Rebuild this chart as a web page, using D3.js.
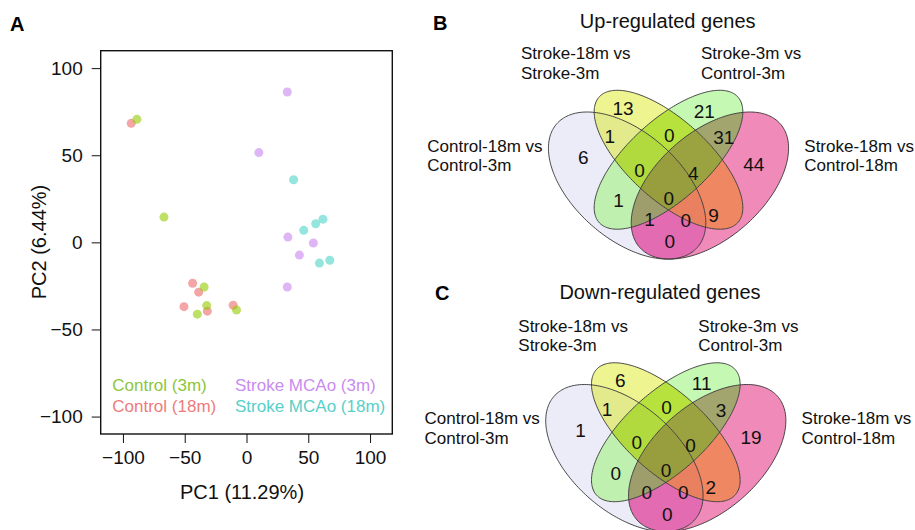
<!DOCTYPE html>
<html>
<head>
<meta charset="utf-8">
<script src="https://cdn.jsdelivr.net/npm/d3@7"></script>
<style>
  body { margin: 0; background: #fff; }
  svg { font-family: "Liberation Sans", Arial, sans-serif; }
</style>
</head>
<body>
<svg id="fig" width="915" height="530"></svg>
<script>
// ---- Panel A data: PCA scores
var groups = ["Control (3m)", "Control (18m)", "Stroke MCAo (3m)", "Stroke MCAo (18m)"];
var pc1Control3m  = [-88.7, -66.8, -34.3, -32.2, -39.8, -8.1];
var pc2Control3m  = [70.6, 14.5, -25.6, -36.3, -41.2, -38.8];
var pc1Control18m = [-93.3, -43.6, -38.7, -50.6, -31.7, -10.8];
var pc2Control18m = [68.3, -23.5, -28.6, -36.9, -39.5, -36.1];
var pc1Stroke3m   = [33.0, 10.0, 33.5, 54.1, 42.8, 33.0];
var pc2Stroke3m   = [86.3, 51.5, 3.0, -0.4, -7.3, -25.6];
var pc1Stroke18m  = [38.1, 61.9, 56.0, 46.3, 59.0, 67.4];
var pc2Stroke18m  = [35.9, 13.3, 10.7, 6.9, -11.9, -10.3];
var axisTicks = [-100, -50, 0, 50, 100];

// ---- Panels B/C data: Venn counts
var setNames = ["Control-18m vs Control-3m", "Stroke-18m vs Stroke-3m",
                "Stroke-3m vs Control-3m", "Stroke-18m vs Control-18m"];
// region keys: L = Control-18m/3m, Y = Stroke-18m/3m, G = Stroke-3m/Control-3m, P = Stroke-18m/Control-18m
var regionKeys = ["L", "Y", "G", "P", "LY", "YG", "GP", "LG", "YP", "LP", "LYG", "YGP", "LGP", "LYP", "LYGP"];
var upCounts   = [6, 13, 21, 44, 1, 0, 31, 1, 9, 0, 0, 4, 1, 0, 0];
var downCounts = [1, 6, 11, 19, 1, 0, 3, 0, 2, 0, 0, 0, 0, 0, 0];

var svg = d3.select("#fig");
svg.append("rect").attr("width", 915).attr("height", 530).attr("fill", "#fff");

// ================= Panel A =================
var colors = {
    "Control (3m)": "#93cb00",
    "Control (18m)": "#ed6969",
    "Stroke MCAo (3m)": "#c885ee",
    "Stroke MCAo (18m)": "#4fd3ca"
};
var textColors = {
    "Control (3m)": "#8cc63c",
    "Control (18m)": "#ee7b7b",
    "Stroke MCAo (3m)": "#c98cf0",
    "Stroke MCAo (18m)": "#58d0c8"
};

var x = d3.scaleLinear().domain([-118, 118]).range([100.7, 392.3]);
var y = d3.scaleLinear().domain([-110, 110]).range([434, 50.7]);

var chart = svg.append("g");

var pts = [];
function addGroup(g, xs, ys) {
    xs.forEach(function(v, i) { pts.push({group: g, pc1: v, pc2: ys[i]}); });
}
addGroup(groups[1], pc1Control18m, pc2Control18m);
addGroup(groups[0], pc1Control3m, pc2Control3m);
addGroup(groups[2], pc1Stroke3m, pc2Stroke3m);
addGroup(groups[3], pc1Stroke18m, pc2Stroke18m);

chart.selectAll("circle.pt").data(pts).enter().append("circle")
    .attr("class", "pt")
    .attr("cx", function(d) { return x(d.pc1); })
    .attr("cy", function(d) { return y(d.pc2); })
    .attr("r", 4.5)
    .attr("fill", function(d) { return colors[d.group]; })
    .attr("fill-opacity", 0.6);

// box
chart.append("rect")
    .attr("x", x.range()[0]).attr("y", y.range()[1])
    .attr("width", x.range()[1] - x.range()[0])
    .attr("height", y.range()[0] - y.range()[1])
    .attr("fill", "none").attr("stroke", "#111").attr("stroke-width", 1.4);

var xAxis = d3.axisBottom(x).tickValues(axisTicks).tickSize(9).tickPadding(8);
var yAxis = d3.axisLeft(y).tickValues(axisTicks).tickSize(9).tickPadding(9);

var gx = chart.append("g").attr("transform", "translate(0," + y.range()[0] + ")").call(xAxis);
var gy = chart.append("g").attr("transform", "translate(" + x.range()[0] + ",0)").call(yAxis);
[gx, gy].forEach(function(g) {
    g.select(".domain").remove();
    g.selectAll("line").attr("stroke", "#111").attr("stroke-width", 1);
    g.selectAll("text").attr("fill", "#111").style("font-size", "19px")
        .style("font-family", "'Liberation Sans', Arial, sans-serif");
});

// axis titles
chart.append("text")
    .attr("x", 242).attr("y", 499)
    .attr("text-anchor", "middle").style("font-size", "20px").attr("fill", "#111")
    .text("PC1 (11.29%)");
chart.append("text")
    .attr("transform", "translate(46,242) rotate(-90)")
    .attr("text-anchor", "middle").style("font-size", "20px").attr("fill", "#111")
    .text("PC2 (6.44%)");

// legend
var legendPos = [[112.3, 390.7], [112.3, 411.7], [235, 390.7], [235, 411.7]];
groups.forEach(function(g, i) {
    chart.append("text")
        .attr("x", legendPos[i][0]).attr("y", legendPos[i][1])
        .style("font-size", "17px").attr("fill", textColors[g])
        .text(g);
});

svg.append("text").attr("x", 10).attr("y", 31)
    .style("font-size", "20px").style("font-weight", "bold").text("A");

// ================= Panels B, C =================
// ellipse layout in unit (npc) coordinates, as in the VennDiagram quad layout
var ellipses = {
    L: {cx: 0.35, cy: 0.47, a: 0.35, b: 0.20, rot: 135},
    Y: {cx: 0.50, cy: 0.57, a: 0.35, b: 0.15, rot: 135},
    G: {cx: 0.50, cy: 0.57, a: 0.35, b: 0.15, rot: 45},
    P: {cx: 0.65, cy: 0.47, a: 0.35, b: 0.20, rot: 45}
};
var setKeys = ["L", "Y", "G", "P"];
var regionColors = {
    L: "#ecebf8", Y: "#eef48f", G: "#c4f8b3", P: "#f08bb9",
    LY: "#e2ea8c", YG: "#b7e23d", GP: "#a3a56f", LG: "#bff0b0",
    YP: "#ee8762", LP: "#e26bb1", LYG: "#b0da3d", YGP: "#9ba240",
    LGP: "#9e9e6d", LYP: "#e98161", LYGP: "#989d3e"
};
var labelPos = {
    L: [0.191, 0.58], Y: [0.335, 0.77], G: [0.63, 0.76], P: [0.809, 0.552],
    LY: [0.287, 0.66], YG: [0.503, 0.666], GP: [0.70, 0.657], LG: [0.319, 0.412],
    YP: [0.663, 0.357], LP: [0.505, 0.253], LYG: [0.395, 0.53], YGP: [0.59, 0.518],
    LGP: [0.431, 0.339], LYP: [0.563, 0.337], LYGP: [0.501, 0.423]
};

var panels = [
    {id: "B", title: "Up-regulated genes", counts: upCounts, x0: 530.5, y0: 48.8,
     titleX: 667.7, titleY: 28, letterX: 433, letterY: 29.5},
    {id: "C", title: "Down-regulated genes", counts: downCounts, x0: 527.8, y0: 321.3,
     titleX: 660, titleY: 298.5, letterX: 435, letterY: 299.5}
];

var defs = svg.append("defs");
var ellLine = d3.line().curve(d3.curveLinearClosed);

panels.forEach(function(p) {
    var sx = d3.scaleLinear().domain([0, 1]).range([p.x0, p.x0 + 276]);
    var sy = d3.scaleLinear().domain([0, 1]).range([p.y0 + 258, p.y0]);
    var g = svg.append("g");

    var paths = {};
    setKeys.forEach(function(k) {
        var e = ellipses[k];
        var th = e.rot * Math.PI / 180;
        var ptsE = d3.range(0, 360, 1.5).map(function(deg) {
            var t = deg * Math.PI / 180;
            var u = e.cx + e.a * Math.cos(t) * Math.cos(th) - e.b * Math.sin(t) * Math.sin(th);
            var v = e.cy + e.a * Math.cos(t) * Math.sin(th) + e.b * Math.sin(t) * Math.cos(th);
            return [sx(u), sy(v)];
        });
        paths[k] = ellLine(ptsE);
        defs.append("clipPath").attr("id", "clip-" + p.id + "-" + k)
            .append("path").attr("d", paths[k]);
    });

    // fill each region of the diagram
    regionKeys.forEach(function(key) {
        var inside = key.split("");
        var outside = setKeys.filter(function(k) { return inside.indexOf(k) < 0; });
        var maskId = "mask-" + p.id + "-" + key;
        var mask = defs.append("mask").attr("id", maskId)
            .attr("maskUnits", "userSpaceOnUse")
            .attr("x", 0).attr("y", 0).attr("width", 915).attr("height", 530);
        mask.append("rect").attr("width", 915).attr("height", 530).attr("fill", "#fff");
        outside.forEach(function(k) {
            mask.append("path").attr("d", paths[k]).attr("fill", "#000");
        });
        var rg = g.append("g").attr("mask", "url(#" + maskId + ")");
        inside.forEach(function(k) {
            rg = rg.append("g").attr("clip-path", "url(#clip-" + p.id + "-" + k + ")");
        });
        rg.append("rect").attr("x", sx(0) - 10).attr("y", sy(1) - 10)
            .attr("width", 300).attr("height", 290)
            .attr("fill", regionColors[key]);
    });

    // outlines
    g.selectAll("path.outline").data(setKeys).enter().append("path")
        .attr("class", "outline")
        .attr("d", function(k) { return paths[k]; })
        .attr("fill", "none").attr("stroke", "#333").attr("stroke-width", 0.9);

    // counts
    g.selectAll("text.count").data(regionKeys).enter().append("text")
        .attr("class", "count")
        .attr("x", function(k) { return sx(labelPos[k][0]); })
        .attr("y", function(k) { return sy(labelPos[k][1]); })
        .attr("dy", "0.36em")
        .attr("text-anchor", "middle")
        .style("font-size", "19px").attr("fill", "#111")
        .text(function(k, i) { return p.counts[i]; });

    // category labels (two lines each)
    var catPos = [[-103.2, 102.9], [-9.5, 10.2], [170.5, 10.2], [273.8, 102.9]];
    setNames.forEach(function(name, i) {
        var parts = name.split(" vs ");
        var t = g.append("text")
            .attr("x", p.x0 + catPos[i][0]).attr("y", p.y0 + catPos[i][1])
            .style("font-size", "17px").attr("fill", "#111");
        t.append("tspan").attr("x", p.x0 + catPos[i][0]).text(parts[0] + " vs");
        t.append("tspan").attr("x", p.x0 + catPos[i][0]).attr("dy", 19.5).text(parts[1]);
    });

    svg.append("text").attr("x", p.titleX).attr("y", p.titleY)
        .attr("text-anchor", "middle").style("font-size", "20px").attr("fill", "#111")
        .text(p.title);
    svg.append("text").attr("x", p.letterX).attr("y", p.letterY)
        .style("font-size", "20px").style("font-weight", "bold").text(p.id);
});
</script>
</body>
</html>
